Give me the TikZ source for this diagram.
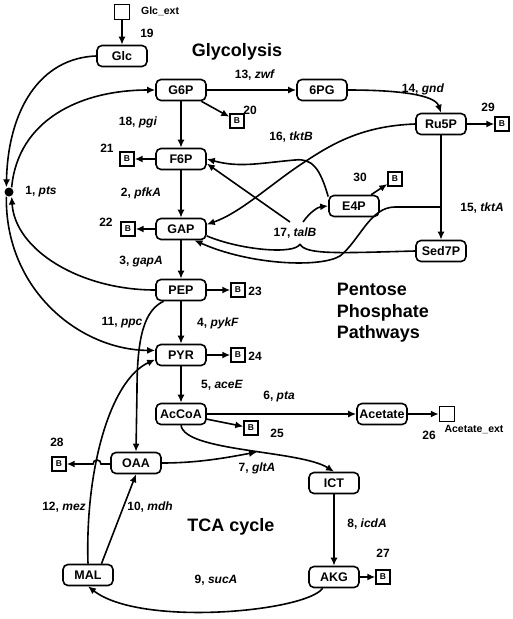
\documentclass[tikz,border=0pt]{standalone}
\usepackage{fontspec}
\setmainfont{Liberation Sans}
\usetikzlibrary{arrows.meta,positioning}
\tikzset{met/.style={rectangle,rounded corners=5pt,draw=black,minimum width=50pt,minimum height=21pt,inner sep=1pt,font=\fontsize{12.5}{13}\selectfont\bfseries}}
\tikzset{bio/.style={rectangle,draw=black,line width=1.4pt,minimum size=14pt,inner sep=0pt,font=\fontsize{8.5}{9}\selectfont\bfseries}}
\tikzset{ext/.style={rectangle,draw=black,line width=1.4pt,minimum size=15pt,inner sep=0pt}}
\tikzset{rlab/.style={font=\fontsize{12}{13}\selectfont\bfseries,inner sep=1pt}}
\tikzset{title/.style={font=\fontsize{18}{21.5}\selectfont\bfseries,align=left,inner sep=0pt}}
\newcommand{\Enz}[2]{#1, \textit{#2}}

\begin{document}
\begin{tikzpicture}[x=1pt,y=-1pt,line width=1.6pt,>={Latex[length=8pt,width=7pt]}]
\useasboundingbox (0,0) rectangle (512,619);
% metabolites
\node (Glcext) [ext] at (122,12) {};
\node (Glc) [met] at (122,56) {Glc};
\node (G6P) [met] at (181,90) {G6P};
\node (PG6) [met] at (322,90) {6PG};
\node (Ru5P) [met] at (441,124) {Ru5P};
\node (F6P) [met] at (181,159) {F6P};
\node (E4P) [met] at (354,206) {E4P};
\node (GAP) [met] at (181,229) {GAP};
\node (Sed7P) [met] at (441,251) {Sed7P};
\node (PEP) [met] at (181,290) {PEP};
\node (PYR) [met] at (181,355) {PYR};
\node (AcCoA) [met] at (181,414) {AcCoA};
\node (Acetate) [met] at (382,414) {Acetate};
\node (Acetateext) [ext] at (447,414) {};
\node (OAA) [met] at (136,463) {OAA};
\node (ICT) [met] at (334,483) {ICT};
\node (AKG) [met] at (334,577) {AKG};
\node (MAL) [met] at (88,575) {MAL};
\node (pts) [circle,fill=black,inner sep=0pt,minimum size=9pt] at (9,192) {};
\coordinate (gA) at (257,452);
\coordinate (kA) at (441,207);
\coordinate (tB) at (300,244);
% biomass sinks
\node (B20) [bio] at (237,121) {B};
\node (B21) [bio] at (127,159) {B};
\node (B22) [bio] at (128,229) {B};
\node (B23) [bio] at (238,290) {B};
\node (B24) [bio] at (238,355) {B};
\node (B25) [bio] at (251,428) {B};
\node (B27) [bio] at (383,577) {B};
\node (B28) [bio] at (59,464) {B};
\node (B29) [bio] at (502,124) {B};
\node (B30) [bio] at (395,179) {B};
% texts
\node (glcextlab) [anchor=west,font=\fontsize{10.5}{11}\selectfont\bfseries] at (137,11) {Glc\_ext};
\node (acetextlab) [font=\fontsize{10.5}{11}\selectfont\bfseries] at (474,430) {Acetate\_ext};
\node (glyco) [title] at (237,52) {Glycolysis};
\node (ppp) [title,anchor=west] at (336,313) {Pentose\\Phosphate\\Pathways};
\node (tca) [title] at (231,527) {TCA cycle};
\node (r1) [rlab] at (41,192) {\Enz{1}{pts}};
\node (r2) [rlab] at (141,193) {\Enz{2}{pfkA}};
\node (r3) [rlab] at (141,262) {\Enz{3}{gapA}};
\node (r4) [rlab] at (218,323) {\Enz{4}{pykF}};
\node (r5) [rlab] at (222,385) {\Enz{5}{aceE}};
\node (r6) [rlab] at (279,397) {\Enz{6}{pta}};
\node (r7) [rlab] at (257,468) {\Enz{7}{gltA}};
\node (r8) [rlab] at (367,524) {\Enz{8}{icdA}};
\node (r9) [rlab] at (216,580) {\Enz{9}{sucA}};
\node (r10) [rlab] at (150,507) {\Enz{10}{mdh}};
\node (r11) [rlab] at (122,323) {\Enz{11}{ppc}};
\node (r12) [rlab] at (64,507) {\Enz{12}{mez}};
\node (r13) [rlab] at (255,75) {\Enz{13}{zwf}};
\node (r14) [rlab] at (423,89) {\Enz{14}{gnd}};
\node (r15) [rlab] at (482,208) {\Enz{15}{tktA}};
\node (r16) [rlab] at (291,137) {\Enz{16}{tktB}};
\node (r17) [rlab] at (295,233) {\Enz{17}{talB}};
\node (r18) [rlab] at (138,122) {\Enz{18}{pgi}};
\node (r19) [rlab] at (147,33) {19};
\node (r20) [rlab] at (250,110) {20};
\node (r21) [rlab] at (107,148) {21};
\node (r22) [rlab] at (106,222) {22};
\node (r23) [rlab] at (255,291) {23};
\node (r24) [rlab] at (255,356) {24};
\node (r25) [rlab] at (277,433) {25};
\node (r26) [rlab] at (429,435) {26};
\node (r27) [rlab] at (383,553) {27};
\node (r28) [rlab] at (57,442) {28};
\node (r29) [rlab] at (488,107) {29};
\node (r30) [rlab] at (360,177) {30};
%
\path[->] (Glcext) edge (Glc);
\path[->] (G6P) edge (F6P);
\path[->] (F6P) edge (GAP);
\path[->] (GAP) edge (PEP);
\path[->] (PEP) edge (PYR);
\path[->] (PYR) edge (AcCoA);
\path[->] (AcCoA) edge (Acetate);
\path[->] (Acetate) edge (Acetateext);
\path[->] (ICT) edge (AKG);
\path[->] (G6P) edge (PG6);
\path[->] (Ru5P) edge (Sed7P);
\path[->] (MAL.40) edge (OAA.south);
%
\path[->] (G6P) edge (B20);
\path[->] (F6P) edge (B21);
\path[->] (GAP) edge (B22);
\path[->] (PEP) edge (B23);
\path[->] (PYR) edge (B24);
\path[->] (AcCoA) edge (B25);
\path[->] (AKG) edge (B27);
\path[->] (Ru5P) edge (B29);
\path[->] (E4P) edge (B30);
\draw[->] (OAA.west |- B28) -- (101,464) arc[start angle=0,end angle=180,radius=4pt] -- (B28.east);
% pts
\draw[->] (Glc.west) .. controls (40,58) and (8,110) .. (pts.120);
\draw[->] (pts.60) .. controls (18,120) and (80,90) .. (G6P.west);
\draw[->] (PEP.west) .. controls (80,290) and (15,250) .. (pts.-60);
\draw[->] (pts.-120) .. controls (5,290) and (80,350) .. (PYR.170);
% anaplerotic
\draw[->] (PEP.213) .. controls (145,310) and (137,335) .. (137,390) -- (OAA.north);
\draw[->] (MAL.north) .. controls (85,470) and (110,380) .. (PYR.190);
% TCA
\draw[->] (OAA.east) .. controls (200,463) and (230,457) .. (gA);
\draw[->] (AcCoA.south) .. controls (185,452) and (300,450) .. (ICT.north);
\draw[->] (AKG.225) .. controls (305,612) and (140,627) .. (MAL.south);
% pentose phosphate
\draw[->] (PG6.east) .. controls (400,90) and (435,95) .. (Ru5P.north);
\draw[->] (Ru5P.west) .. controls (360,126) and (330,145) .. (300,165) .. controls (270,185) and (240,213) .. (GAP.10);
\draw[->] (E4P.160) .. controls (320,168) and (312,158) .. (295,160) .. controls (260,163) and (240,168) .. (F6P.east);
\draw (GAP.-15) .. controls (240,250) and (295,255) .. (tB);
\draw (Sed7P.west) .. controls (340,253) and (305,255) .. (tB);
\draw[->] (290,222) -- (F6P.-10);
\draw[->] (303,222) .. controls (310,212) and (318,207) .. (E4P.west);
\draw[->] (kA) -- (395,207) .. controls (370,207) and (360,240) .. (340,256) .. controls (320,268) and (250,265) .. (GAP.-40);
\end{tikzpicture}
\end{document}
